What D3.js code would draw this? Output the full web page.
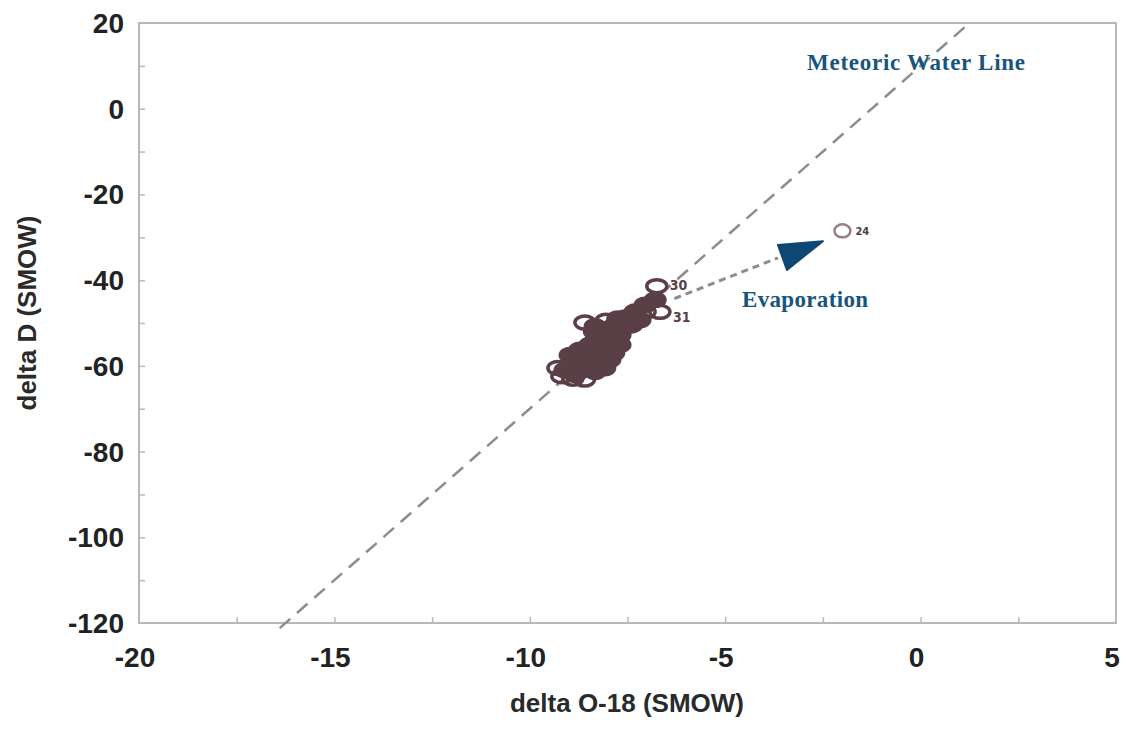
<!DOCTYPE html>
<html lang="en">
<head>
  <meta charset="UTF-8">
  <title>delta D vs delta O-18</title>
  <script src="https://d3js.org/d3.v7.min.js"></script>
  <style>
    body { margin: 0; background: #fff; }
  </style>
</head>
<body>
  <div id="root"></div>
  <script>
    // axis ranges and ticks
    const xTicks = [-20, -15, -10, -5, 0, 5]
    const yTicks = [20, 0, -20, -40, -60, -80, -100, -120]

    // samples [delta O-18, delta D] - the dense overlapping core
    const clusterSolid = [
      [-9.10, -61.0], [-8.84, -59.8], [-8.97, -57.5], [-8.72, -56.3], [-8.46, -55.1],
      [-8.59, -58.6], [-8.33, -57.5], [-8.20, -54.0], [-8.08, -51.6], [-7.95, -55.1],
      [-7.82, -50.5], [-7.69, -52.8], [-7.56, -48.8], [-7.31, -47.4], [-7.05, -45.8],
      [-6.79, -44.6], [-8.20, -59.1], [-8.46, -60.9], [-8.84, -62.1], [-7.75, -49.0],
      [-8.35, -52.0], [-7.95, -58.6], [-8.08, -60.5], [-7.69, -55.1], [-8.33, -61.4],
      [-8.20, -52.8], [-8.33, -50.8], [-7.18, -49.3], [-7.43, -50.5], [-7.85, -57.0]
    ]
    // samples drawn as open rings around the core
    const clusterOpen = [
      [-8.59, -49.9], [-9.28, -60.5], [-9.18, -62.4], [-7.05, -47.4], [-8.05, -49.5],
      [-8.90, -63.0], [-7.40, -50.5], [-8.60, -63.2]
    ]
    const labelled = [
      { id: '30', x: -6.75, y: -41.4 },
      { id: '31', x: -6.67, y: -47.4 },
      { id: '24', x: -2.0, y: -28.5 }
    ]

    // meteoric water line: dD = 8 * d18O + 10
    const mwlSlope = 8
    const mwlIntercept = 10
    const mwlRange = [-16.4, 1.25]

    // evaporation trend and arrow head
    const evapLine = [[-6.3, -44.3], [-3.65, -34.8]]
    const evapHead = [[-3.65, -31.8], [-2.5, -30.9], [-3.42, -37.6]]

    const width = 1127, height = 729
    const margin = { top: 23, right: 11, bottom: 106, left: 139 }

    const svg = d3.select('#root')
      .append('svg')
      .attr('width', width)
      .attr('height', height)

    const x = d3.scaleLinear().domain([-20, 5]).range([margin.left, width - margin.right])
    const y = d3.scaleLinear().domain([-120, 20]).range([height - margin.bottom, margin.top])

    const frameColor = '#b8b8b8'
    const blue = '#17557f'
    const brown = '#5b3f47'

    // frame
    svg.append('rect')
      .attr('x', x(-20)).attr('y', y(20))
      .attr('width', x(5) - x(-20)).attr('height', y(-120) - y(20))
      .attr('fill', 'none').attr('stroke', frameColor).attr('stroke-width', 2)

    // inward ticks
    const xAxis = d3.axisBottom(x).tickValues(d3.range(-17.5, 5, 2.5)).tickSize(-6).tickFormat('')
    svg.append('g').attr('transform', `translate(0,${y(-120)})`).call(xAxis)
      .call(g => g.select('.domain').remove())
      .selectAll('line').attr('stroke', frameColor).attr('stroke-width', 1.5)
    const yAxis = d3.axisLeft(y).tickValues(d3.range(-110, 20, 10)).tickSize(-6).tickFormat('')
    svg.append('g').attr('transform', `translate(${x(-20)},0)`).call(yAxis)
      .call(g => g.select('.domain').remove())
      .selectAll('line').attr('stroke', frameColor).attr('stroke-width', 1.5)

    // tick labels
    svg.append('g').selectAll('text').data(xTicks).join('text')
      .attr('x', d => x(d) - 4).attr('y', 667)
      .attr('text-anchor', 'middle')
      .attr('font-family', 'Liberation Sans, Arial, sans-serif')
      .attr('font-weight', 'bold').attr('font-size', 28).attr('fill', '#222')
      .text(d => d)
    svg.append('g').selectAll('text').data(yTicks).join('text')
      .attr('x', 124).attr('y', d => y(d) + 10)
      .attr('text-anchor', 'end')
      .attr('font-family', 'Liberation Sans, Arial, sans-serif')
      .attr('font-weight', 'bold').attr('font-size', 28).attr('fill', '#222')
      .text(d => d)

    // axis titles
    svg.append('text')
      .attr('x', 627).attr('y', 712)
      .attr('text-anchor', 'middle')
      .attr('font-family', 'Liberation Sans, Arial, sans-serif')
      .attr('font-weight', 'bold').attr('font-size', 26).attr('fill', '#2a2a2a')
      .text('delta O-18 (SMOW)')
    svg.append('text')
      .attr('transform', 'translate(36,313) rotate(-90)')
      .attr('text-anchor', 'middle')
      .attr('font-family', 'Liberation Sans, Arial, sans-serif')
      .attr('font-weight', 'bold').attr('font-size', 26).attr('fill', '#2a2a2a')
      .text('delta D (SMOW)')

    // meteoric water line
    svg.append('line')
      .attr('x1', x(mwlRange[0])).attr('y1', y(mwlSlope * mwlRange[0] + mwlIntercept))
      .attr('x2', x(mwlRange[1])).attr('y2', y(mwlSlope * mwlRange[1] + mwlIntercept))
      .attr('stroke', '#8c8c8c').attr('stroke-width', 2.5)
      .attr('stroke-dasharray', '14 9')

    // evaporation line
    svg.append('line')
      .attr('x1', x(evapLine[0][0])).attr('y1', y(evapLine[0][1]))
      .attr('x2', x(evapLine[1][0])).attr('y2', y(evapLine[1][1]))
      .attr('stroke', '#8c8c8c').attr('stroke-width', 3)
      .attr('stroke-dasharray', '7 5')
    svg.append('path')
      .attr('d', d3.line().x(d => x(d[0])).y(d => y(d[1]))(evapHead) + 'Z')
      .attr('fill', '#0e4674').attr('stroke', '#0e4674').attr('stroke-width', 2)
      .attr('stroke-linejoin', 'round')

    // cluster of samples
    svg.append('g').selectAll('ellipse').data(clusterSolid).join('ellipse')
      .attr('cx', d => x(d[0])).attr('cy', d => y(d[1]))
      .attr('rx', 10).attr('ry', 7)
      .attr('fill', brown).attr('stroke', brown).attr('stroke-width', 3)
    svg.append('g').selectAll('ellipse').data(clusterOpen).join('ellipse')
      .attr('cx', d => x(d[0])).attr('cy', d => y(d[1]))
      .attr('rx', 10).attr('ry', 6.5)
      .attr('fill', 'none').attr('stroke', brown).attr('stroke-width', 3.5)

    svg.append('g').selectAll('ellipse').data(labelled).join('ellipse')
      .attr('cx', d => x(d.x)).attr('cy', d => y(d.y))
      .attr('rx', d => d.id === '24' ? 8 : 10).attr('ry', 6.5)
      .attr('fill', 'none')
      .attr('stroke', d => d.id === '24' ? '#9a7f86' : brown)
      .attr('stroke-width', d => d.id === '24' ? 2.5 : 3.5)
    svg.append('g').selectAll('text').data(labelled).join('text')
      .attr('x', d => x(d.x) + 13)
      .attr('y', d => y(d.y) + (d.id === '31' ? 10 : 4))
      .attr('font-family', 'DejaVu Sans Condensed, DejaVu Sans, sans-serif')
      .attr('font-weight', 'bold').attr('font-size', d => d.id === '24' ? 11 : 14)
      .attr('fill', d => d.id === '24' ? '#444' : brown)
      .text(d => d.id)

    // annotations
    svg.append('text')
      .attr('x', 807).attr('y', 70)
      .attr('font-family', 'Liberation Serif, DejaVu Serif, serif')
      .attr('font-weight', 'bold').attr('font-size', 23).attr('fill', blue)
      .attr('textLength', 218)
      .text('Meteoric Water Line')
    svg.append('text')
      .attr('x', 742).attr('y', 307)
      .attr('font-family', 'Liberation Serif, DejaVu Serif, serif')
      .attr('font-weight', 'bold').attr('font-size', 23).attr('fill', blue)
      .attr('textLength', 126)
      .text('Evaporation')
  </script>
</body>
</html>
